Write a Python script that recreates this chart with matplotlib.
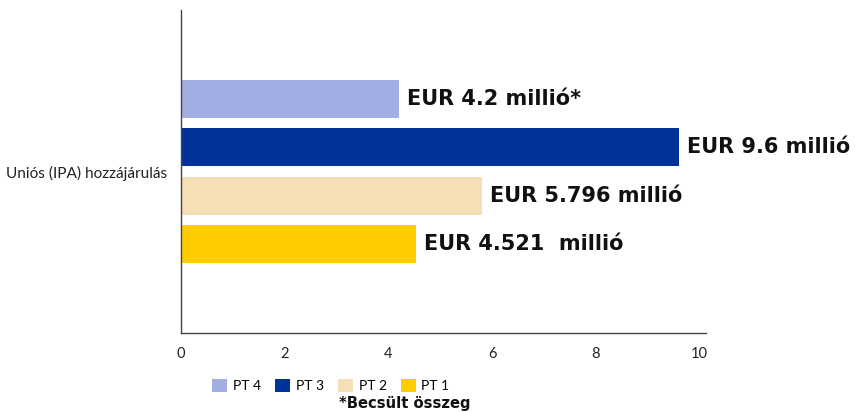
import matplotlib.pyplot as plt
from matplotlib.patches import Patch

# adatok
category = "Uniós (IPA) hozzájárulás"
series = ["PT 4", "PT 3", "PT 2", "PT 1"]
values = [4.2, 9.6, 5.796, 4.521]
labels = ["EUR 4.2 millió*", "EUR 9.6 millió", "EUR 5.796 millió", "EUR 4.521  millió"]
colors = ["#a2aee3", "#003399", "#f5dfb4", "#ffcc00"]
xticks = [0, 2, 4, 6, 8, 10]
note = "*Becsült összeg"

plt.rcParams['font.family'] = ['Lato', 'DejaVu Sans']
bold_font = ['DejaVu Sans']

fig = plt.figure(figsize=(8.55, 4.12), dpi=100)
ax = fig.add_axes([0.2117, 0.1917, 0.614, 0.784])

pos = [3, 2, 1, 0]
ax.barh(pos, values, height=0.78, color=colors)

for p, v, t in zip(pos, values, labels):
    ax.annotate(t, (v, p), xytext=(6, 0), textcoords="offset points",
                va="center", ha="left", fontsize=15, fontweight="bold",
                family=bold_font, color="#111111", annotation_clip=False)

ax.set_xlim(0, 10.12)
ax.set_ylim(-1.83, 4.83)
ax.set_xticks(xticks)
ax.set_xticklabels([str(x) for x in xticks], fontsize=10.5, color="#222222")
ax.set_yticks([1.5])
ax.set_yticklabels([category], fontsize=11.1, color="#222222")
ax.tick_params(axis="both", length=0)
ax.tick_params(axis="y", pad=10)
ax.tick_params(axis="x", pad=10)

for s in ["top", "right"]:
    ax.spines[s].set_visible(False)
for s in ["left", "bottom"]:
    ax.spines[s].set_color("#444444")
    ax.spines[s].set_linewidth(1)

handles = [Patch(facecolor=c, label=s) for s, c in zip(series, colors)]
fig.legend(handles=handles, loc="center", bbox_to_anchor=(0.387, 0.065), ncol=4,
           frameon=False, fontsize=10, handlelength=1.1, handleheight=1.1,
           handletextpad=0.4, columnspacing=1.0)

fig.text(0.473, 0.02, note, ha="center", va="center", fontsize=10.6,
         fontweight="bold", family=bold_font, color="#111111")

fig.savefig("out.png", dpi=100)
